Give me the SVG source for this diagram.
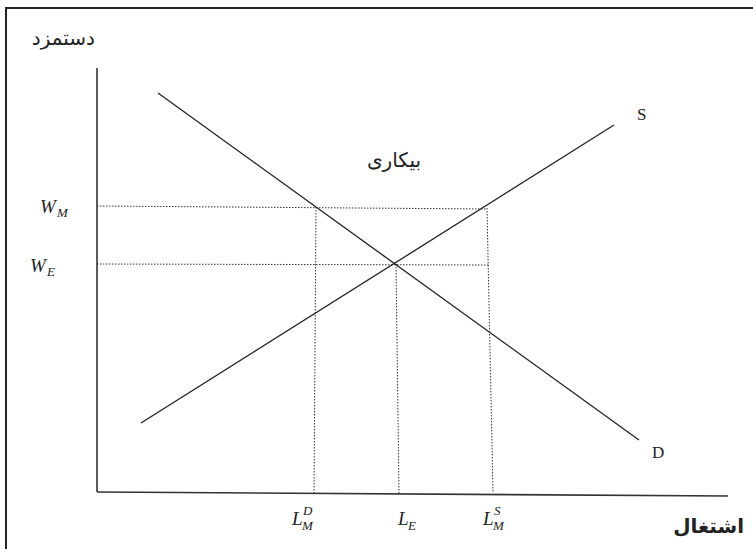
<svg xmlns="http://www.w3.org/2000/svg" width="753" height="549" viewBox="0 0 753 549">
<style>
.frame{stroke:#222;stroke-width:2;fill:none}
.axis{stroke:#333;stroke-width:1.6;fill:none}
.curve{stroke:#222;stroke-width:1.3;fill:none}
.dot{stroke:#333;stroke-width:1;stroke-dasharray:1.5 1.5;fill:none}
.lab{font-family:"Liberation Serif",serif;font-style:italic;font-size:19px;fill:#222}
.sub{font-family:"Liberation Serif",serif;font-style:italic;font-size:13px;fill:#222}
.cl{font-family:"Liberation Serif",serif;font-size:17px;fill:#222}
.ar{font-family:"DejaVu Sans",sans-serif;font-size:20px;fill:#222}
</style>
<rect width="753" height="549" fill="#fff"/>
<path class="frame" d="M6,549 V8 H753"/>
<g id="axes">
<line class="axis" x1="97" y1="68" x2="97" y2="492"/>
<line class="axis" x1="97" y1="492" x2="728" y2="496"/>
</g>
<g id="connectors">
<line class="dot" x1="97" y1="206" x2="487" y2="209"/>
<line class="dot" x1="97" y1="264" x2="489" y2="265"/>
<line class="dot" x1="316" y1="207" x2="314" y2="493"/>
<line class="dot" x1="396" y1="264" x2="399" y2="493"/>
<line class="dot" x1="487" y1="208" x2="493" y2="493"/>
</g>
<g id="demand">
<line class="curve" x1="158" y1="93" x2="639" y2="440"/>
<text class="cl" x="652" y="458">D</text>
</g>
<g id="supply">
<line class="curve" x1="141" y1="423" x2="614" y2="125"/>
<text class="cl" x="637" y="120">S</text>
</g>
<g id="labels">
<text class="ar" x="95" y="45" text-anchor="end" font-size="22">دستمزد</text>
<text class="ar" x="421" y="167" text-anchor="end">بیکاری</text>
<text class="ar" x="744" y="533" text-anchor="end" font-weight="bold" font-size="19">اشتغال</text>
<text class="lab" x="40" y="213">W</text><text class="sub" x="57" y="217">M</text>
<text class="lab" x="30" y="272">W</text><text class="sub" x="47" y="276">E</text>
<text class="lab" x="292" y="525">L</text><text class="sub" x="303" y="515">D</text><text class="sub" x="302" y="530">M</text>
<text class="lab" x="398" y="525">L</text><text class="sub" x="408" y="530">E</text>
<text class="lab" x="483" y="525">L</text><text class="sub" x="494" y="515">S</text><text class="sub" x="493" y="530">M</text>
</g>
</svg>
